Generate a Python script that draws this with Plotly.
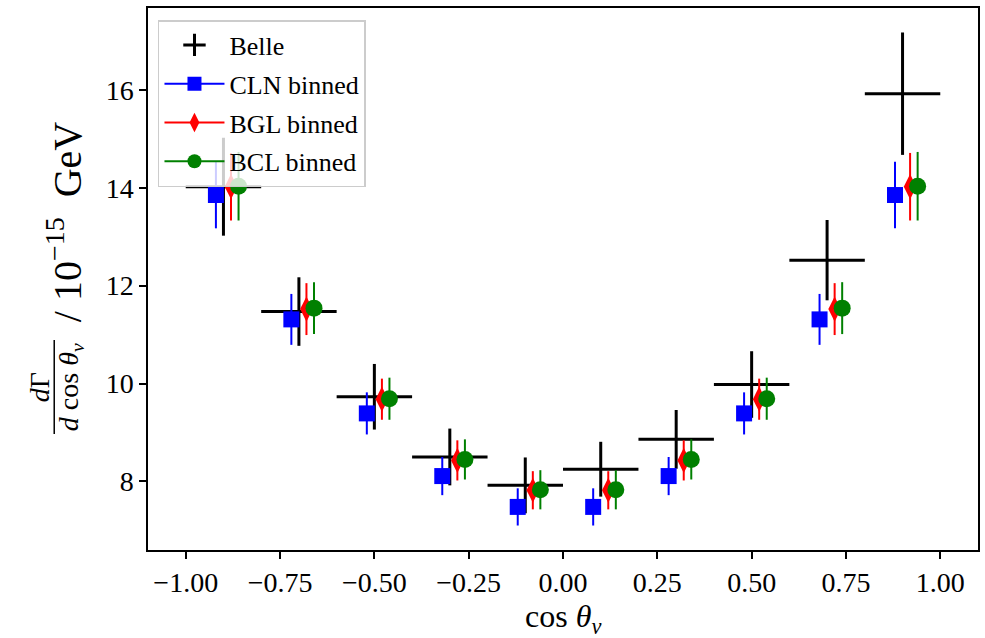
import plotly.graph_objects as go

# ---------------- data ----------------
centers = [-0.9, -0.7, -0.5, -0.3, -0.1, 0.1, 0.3, 0.5, 0.7, 0.9]
bin_halfwidth = [0.1] * 10
belle = [14.02, 11.47, 9.73, 8.50, 7.92, 8.25, 8.86, 9.98, 12.52, 15.92]
belle_err = [1.00, 0.70, 0.67, 0.58, 0.57, 0.56, 0.60, 0.68, 0.82, 1.25]
cln = [13.85, 11.31, 9.39, 8.11, 7.48, 7.48, 8.11, 9.39, 11.31, 13.85]
cln_err = [0.68, 0.52, 0.43, 0.39, 0.38, 0.38, 0.39, 0.43, 0.52, 0.68]
bgl = [14.02, 11.52, 9.68, 8.43, 7.82, 7.82, 8.43, 9.68, 11.52, 14.02]
bgl_err = [0.69, 0.53, 0.42, 0.41, 0.39, 0.39, 0.41, 0.42, 0.53, 0.69]
bcl = [14.03, 11.54, 9.69, 8.45, 7.83, 7.83, 8.45, 9.69, 11.54, 14.03]
bcl_err = [0.70, 0.53, 0.43, 0.41, 0.40, 0.40, 0.41, 0.43, 0.53, 0.70]
offsets = {"CLN": -0.02, "BGL": 0.02, "BCL": 0.04}
xticks = [-1.0, -0.75, -0.5, -0.25, 0.0, 0.25, 0.5, 0.75, 1.0]
yticks = [8, 10, 12, 14, 16]

FONT = "Liberation Serif"
W, H = 985, 638
L, R, T, B = 148, 5, 8, 88


def px(xp):
    return (xp - L) / (W - L - R)


def py(yp):
    return (H - B - yp) / (H - T - B)


fig = go.Figure()

# Belle (crosses from error bars only)
fig.add_trace(go.Scatter(
    x=centers, y=belle, mode="markers",
    marker=dict(size=1, color="rgba(0,0,0,0)"),
    error_x=dict(type="data", array=bin_halfwidth, color="black", thickness=3, width=0),
    error_y=dict(type="data", array=belle_err, color="black", thickness=3, width=0),
    showlegend=False, hoverinfo="skip"))

series = [
    ("CLN", cln, cln_err, "blue", "square", 16),
    ("BGL", bgl, bgl_err, "red", "diamond-tall", 18),
    ("BCL", bcl, bcl_err, "green", "circle", 17),
]
for name, vals, errs, col, sym, sz in series:
    xs = [c + offsets[name] for c in centers]
    fig.add_trace(go.Scatter(
        x=xs, y=vals, mode="markers",
        marker=dict(symbol=sym, size=sz, color=col, line=dict(width=0)),
        error_y=dict(type="data", array=errs, color=col, thickness=2, width=0),
        showlegend=False))

# legend entries
fig.add_trace(go.Scatter(
    x=[None], y=[None], mode="markers", name="Belle",
    marker=dict(symbol="cross-thin", size=22, color="black", line=dict(width=3, color="black")),
    legendgroup="a"))
for name, vals, errs, col, sym, sz in series:
    fig.add_trace(go.Scatter(
        x=[None], y=[None], mode="lines+markers", name=f"{name} binned",
        line=dict(color=col, width=2),
        marker=dict(symbol=sym, size=14, color=col),
        legendgroup=name))

axis_common = dict(
    showgrid=False, zeroline=False, showline=True, linecolor="black", linewidth=1.5,
    mirror=True, ticks="outside", ticklen=7, tickwidth=1.5, tickcolor="black",
    tickfont=dict(family=FONT, size=28, color="black"))

fig.update_xaxes(range=[-1.1, 1.1], tickvals=xticks,
                 ticktext=[("−" if v < 0 else "") + f"{abs(v):.2f}" for v in xticks],
                 **axis_common)
fig.update_yaxes(range=[6.6, 17.67], tickvals=yticks, ticktext=[str(v) for v in yticks],
                 **axis_common)

# x-axis label
fig.add_annotation(xref="paper", yref="paper", x=px(564), y=py(618), text="cos <i>θ<sub>v</sub></i>",
                   showarrow=False, xanchor="center", yanchor="middle",
                   font=dict(family=FONT, size=32, color="black"))

# y-axis label built as a fraction
ann_font_small = dict(family=FONT, size=28, color="black")
ann_font_big = dict(family=FONT, size=40, color="black")
fig.add_annotation(xref="paper", yref="paper", x=px(39), y=py(387), text="<i>d</i>Γ",
                   textangle=-90, showarrow=False, xanchor="center", yanchor="middle",
                   font=ann_font_small)
fig.add_annotation(xref="paper", yref="paper", x=px(70), y=py(387), text="<i>d</i> cos <i>θ<sub>v</sub></i>",
                   textangle=-90, showarrow=False, xanchor="center", yanchor="middle",
                   font=ann_font_small)
fig.add_shape(type="line", xref="paper", yref="paper", x0=px(54), x1=px(54), y0=py(340), y1=py(434),
              line=dict(color="black", width=1.5))
fig.add_annotation(xref="paper", yref="paper", x=px(64), y=py(222),
                   text="/ 10<sup>−15</sup>&nbsp;&nbsp;GeV",
                   textangle=-90, showarrow=False, xanchor="center", yanchor="middle",
                   font=ann_font_big)

fig.update_layout(
    width=W, height=H, margin=dict(l=L, r=R, t=T, b=B),
    paper_bgcolor="white", plot_bgcolor="white",
    font=dict(family=FONT, color="black"),
    legend=dict(x=px(158), y=py(20), xanchor="left", yanchor="top",
                bgcolor="rgba(255,255,255,0.8)", bordercolor="#cccccc", borderwidth=1.5,
                font=dict(family=FONT, size=26, color="black"),
                traceorder="grouped", tracegroupgap=2, itemwidth=60),
)

fig.write_html("out.html")
